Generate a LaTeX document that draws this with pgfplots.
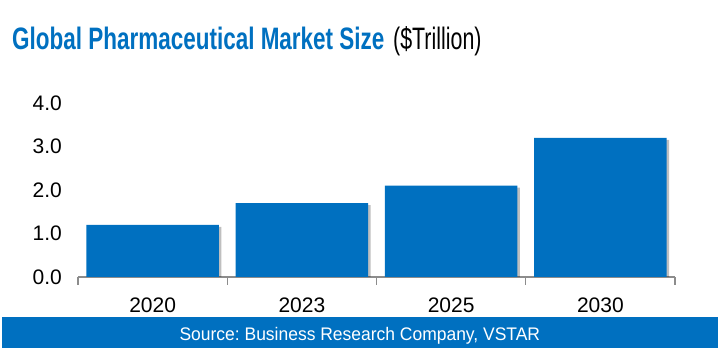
\documentclass[border=0pt]{standalone}
\usepackage{fontspec}
\setmainfont{Liberation Sans}
\usepackage{pgfplots}
\pgfplotsset{compat=1.18}
\usetikzlibrary{shadows}
\definecolor{vblue}{HTML}{0070C0}
\definecolor{axgray}{HTML}{8C8C8C}
\frenchspacing
\begin{document}
\begin{tikzpicture}[x=1pt,y=1pt]
\useasboundingbox (0,0) rectangle (720,352);
\node[anchor=base west, inner sep=0pt, text=vblue, font=\fontsize{31}{36}\selectfont\bfseries] at (12,302) {\scalebox{0.725}[1]{Global Pharmaceutical Market Size}};
\node[anchor=base west, inner sep=0pt, font=\fontsize{31}{36}\selectfont] at (393,302) {\scalebox{0.69}[1]{(\$Trillion)}};
\begin{axis}[
  at={(78pt,75pt)}, anchor=south west,
  scale only axis, width=597pt, height=174pt,
  xmin=-0.5, xmax=3.5, ymin=0, ymax=4,
  enlargelimits=false,
  axis lines*=left,
  y axis line style={draw=none},
  x axis line style={draw=axgray, line width=1.5pt},
  ytick={0,1,2,3,4},
  ytick style={draw=none},
  yticklabel style={/pgf/number format/fixed, /pgf/number format/fixed zerofill, /pgf/number format/precision=1, anchor=east, inner sep=0pt, xshift=-16pt},
  xtick={0,1,2,3},
  xticklabels={2020,2023,2025,2030},
  major x tick style={draw=none},
  minor xtick={-0.5,0.5,1.5,2.5,3.5},
  minor tick length=8pt,
  major tick length=0pt,
  tick align=outside,
  minor x tick style={draw=axgray, line width=1.2pt},
  xticklabel style={anchor=base, inner sep=0pt, yshift=-35.3pt},
  tick label style={font=\fontsize{21}{25}\selectfont},
  /pgf/number format/assume math mode=true,
]
\addplot[ybar, bar width=132.7pt, fill=vblue, draw=none,
  drop shadow={shadow xshift=2.5pt, shadow yshift=-2pt, fill=black, opacity=0.25}]
  coordinates {(0,1.2) (1,1.7) (2,2.1) (3,3.2)};
\end{axis}
\fill[vblue] (2,3.7) rectangle (718,35.3);
\node[anchor=base, inner sep=0pt, text=white, font=\fontsize{18.2}{22}\selectfont] at (359.85,11.3) {\scalebox{0.96}[1]{Source: Business Research Company, VSTAR}};
\end{tikzpicture}
\end{document}
